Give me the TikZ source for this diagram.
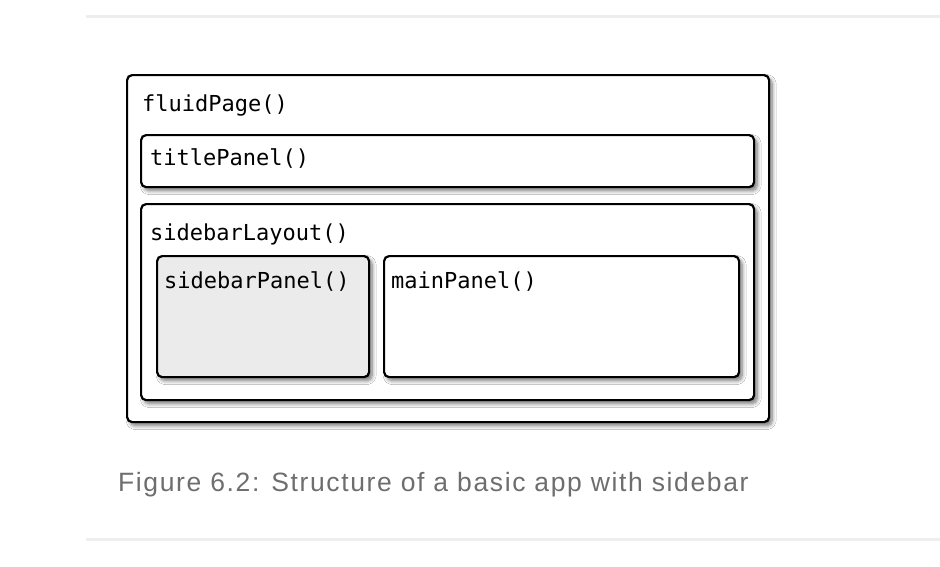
\documentclass[tikz,border=0pt]{standalone}
\usepackage{fontspec}
\setmainfont{Liberation Sans}
\newfontfamily\codefont{DejaVu Sans Mono}
\newfontfamily\capfont[LetterSpace=6.1]{Liberation Sans}
\usetikzlibrary{shadows.blur}
\definecolor{rulegray}{HTML}{EEEEEE}
\definecolor{captiongray}{HTML}{6E6E6E}
\definecolor{sidefill}{HTML}{EBEBEB}
\tikzset{
  panel/.style={draw=black, line width=2.2pt, rounded corners=5pt, fill=white,
    anchor=north west, inner sep=0pt,
    blur shadow={shadow xshift=3pt, shadow yshift=-3.5pt, shadow blur steps=8, shadow blur radius=4pt, shadow opacity=55}},
  code/.style={font=\codefont\fontsize{22}{25}\selectfont, anchor=base west, inner sep=0pt},
  hrule/.style={draw=rulegray, line width=3pt},
}
\begin{document}
\begin{tikzpicture}[x=1pt,y=-1pt]
\useasboundingbox[fill=white] (0,0) rectangle (940,566);
\coordinate (r1a) at (86,16);
\coordinate (r1b) at (940,16);
\coordinate (r2a) at (86,539);
\coordinate (r2b) at (940,539);
\draw[hrule] (r1a) -- (r1b);
\draw[hrule] (r2a) -- (r2b);
\node[panel, minimum width=642pt, minimum height=347pt] (fluid) at (126,74) {};
\node[panel, minimum width=613pt, minimum height=52pt] (title) at (140,134) {};
\node[panel, minimum width=613pt, minimum height=196pt] (layout) at (140,203) {};
\node[panel, fill=sidefill, minimum width=212pt, minimum height=121pt] (side) at (156,255) {};
\node[panel, minimum width=355pt, minimum height=121pt] (main) at (383,255) {};
\node[code] (tfluid) at (142,111) {fluidPage()};
\node[code] (ttitle) at (150,165) {titlePanel()};
\node[code] (tlayout) at (150,240) {sidebarLayout()};
\node[code] (tside) at (164,288) {sidebarPanel()};
\node[code] (tmain) at (391,288) {mainPanel()};
\node[anchor=base west, inner sep=0pt, text=captiongray, font=\capfont\fontsize{26.5}{30}\selectfont] (cap) at (118,491) {Figure 6.2: Structure of a basic app with sidebar};
\end{tikzpicture}
\end{document}
